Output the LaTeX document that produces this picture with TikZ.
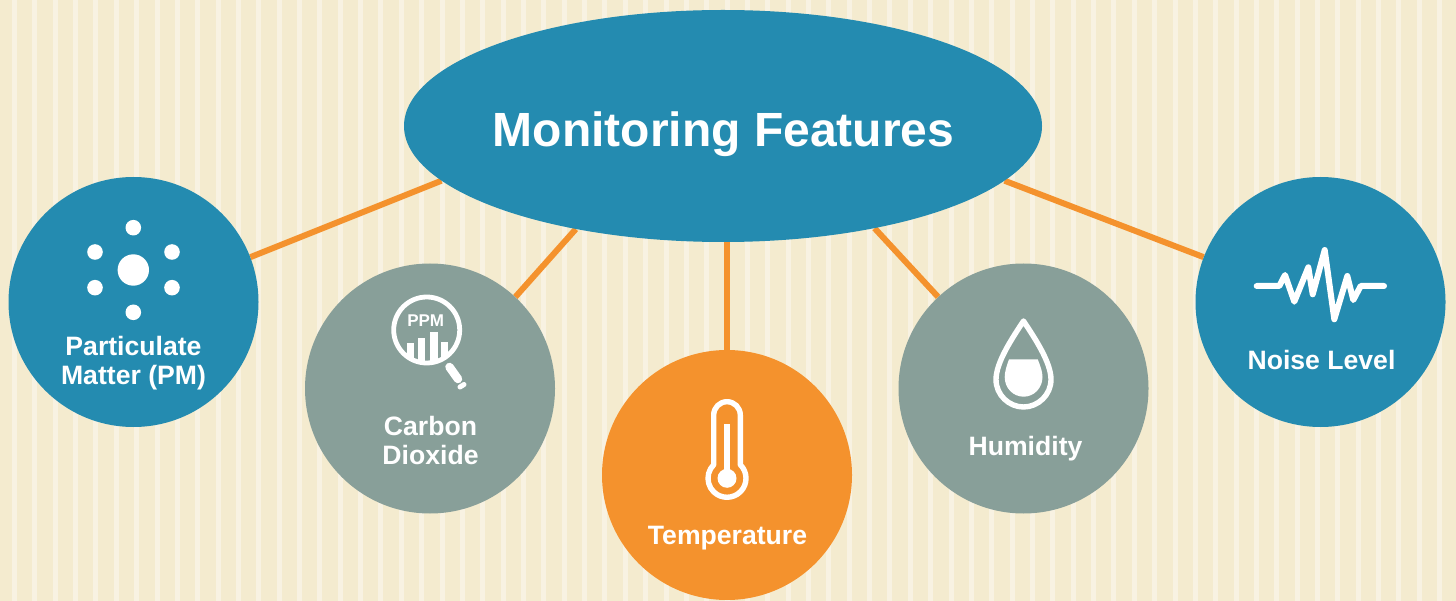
\documentclass[tikz,border=0pt]{standalone}
\usepackage{fontspec}
\setmainfont{Liberation Sans}
\usetikzlibrary{shapes.geometric,backgrounds}
\definecolor{bgcream}{HTML}{F4EBCF}
\definecolor{stripecream}{HTML}{F8F2E2}
\definecolor{tealblue}{HTML}{248BB0}
\definecolor{sagegrey}{HTML}{889F99}
\definecolor{warmorange}{HTML}{F4922D}
\tikzset{
  feature/.style={circle,minimum size=250pt,inner sep=0pt,fill=#1},
  hubshape/.style={ellipse,minimum width=638pt,minimum height=232pt,inner sep=0pt,fill=tealblue},
  label/.style={text=white,font=\fontsize{26.6}{29}\selectfont\bfseries,align=center,inner sep=0pt},
  link/.style={draw=warmorange,line width=6pt},
  iconline/.style={draw=white,line width=5.4pt,line join=round,line cap=round},
}
\begin{document}
\begin{tikzpicture}[x=1pt,y=1pt,yscale=-1]
\useasboundingbox (0,0) rectangle (1456,601);
\node[hubshape] (hub) at (723,126) {};
\node[feature=tealblue] (pm) at (133.5,302) {};
\node[feature=sagegrey] (co2) at (430,388.5) {};
\node[feature=warmorange] (temp) at (727,475) {};
\node[feature=sagegrey] (hum) at (1023.5,388.5) {};
\node[feature=tealblue] (noise) at (1320.5,302) {};
\begin{scope}[on background layer]
  \fill[bgcream] (0,0) rectangle (1456,601);
  \foreach \i in {0,...,70} {
    \fill[stripecream] ({12+20.36*\i},0) rectangle ({17+20.36*\i},601);
  }
  \draw[link] (hub.191.2) -- (pm.21.1);
  \draw[link] (hub.215.8) -- (co2.47.4);
  \draw[link] (temp.north |- hub.south) -- (temp.north);
  \draw[link] (hub.-34.6) -- (hum.133);
  \draw[link] (hub.-11.1) -- (noise.159);
\end{scope}
\node[text=white,font=\fontsize{48}{52}\selectfont\bfseries,inner sep=0pt] (title) at (723.5,134) {Monitoring Features};
\node[label] (pmtext) at (133.5,363.5) {Particulate\\Matter (PM)};
\node[label] (co2text) at (430.5,440.5) {Carbon\\Dioxide};
\node[label] (temptext) at (727.5,538) {Temperature};
\node[label] (humtext) at (1025.5,448.5) {Humidity};
\node[label] (noisetext) at (1321.5,360) {Noise Level};
% PM icon
\fill[white] (133.3,270) circle[radius=15.7pt];
\foreach \p in {(133.3,227.7),(95,252),(172,252),(95,287.7),(172,287.7),(133.3,312.3)}
  \fill[white] \p circle[radius=7.8pt];
% magnifier icon
\draw[draw=white,line width=4.8pt] (426.7,330) circle[radius=33pt];
\begin{scope}
  \clip (426.7,330) circle[radius=33pt];
  \fill[white] (407,342.7) rectangle (413.5,365);
  \fill[white] (417.5,337.7) rectangle (425,365);
  \fill[white] (430,331.7) rectangle (437.5,365);
  \fill[white] (441,342) rectangle (448,365);
\end{scope}
\node[text=white,font=\fontsize{17}{18}\selectfont\bfseries,inner sep=0pt] (ppm) at (425.7,320.5) {PPM};
\draw[draw=white,line width=8.5pt,line cap=round] (449.5,367) -- (458,379);
\draw[draw=white,line width=5pt,line cap=round] (460,387) -- (464,384.5);
% thermometer icon
\draw[iconline] (713.7,464.7) -- (713.7,401.7+13.3) arc[start angle=180,end angle=360,radius=13.3pt] -- (740.3,464.7)
  arc[start angle=-45.6,end angle=225.6,radius=19pt];
\fill[white] (727,478.3) circle[radius=9.5pt];
\fill[white] (724.3,424) rectangle (729.7,475);
% droplet icon
\draw[iconline] (1023.5,321) .. controls (1034,337) and (1051,362) .. (1051,379.5)
  .. controls (1051,395) and (1038,407) .. (1023.5,407)
  .. controls (1009,407) and (996,395) .. (996,379.5)
  .. controls (996,362) and (1013,337) .. cycle;
\fill[white] (1009,359.3) -- (1037.7,359.3) .. controls (1040.5,366) and (1042.5,372) .. (1042.5,377)
  .. controls (1042.5,388) and (1034,396.7) .. (1023.7,396.7)
  .. controls (1013,396.7) and (1004.7,388) .. (1004.7,377)
  .. controls (1004.7,372) and (1006.5,366) .. cycle;
% wave icon
\draw[draw=white,line width=6pt,line cap=round,line join=round] (1256.7,286) -- (1279.3,286) -- (1285,275) -- (1294.3,301.7) -- (1308.3,267.3) -- (1312.7,294.3) -- (1324.7,250) -- (1334.3,319.3) -- (1347.3,276) -- (1353.3,300) -- (1360.7,286) -- (1384,286);
\end{tikzpicture}
\end{document}
